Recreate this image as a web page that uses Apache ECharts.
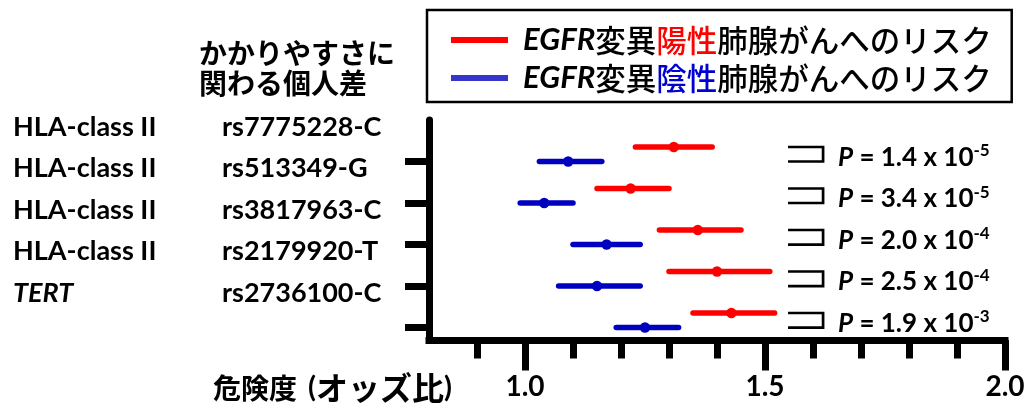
<!DOCTYPE html>
<html>
<head>
<meta charset="utf-8">
<script src="https://cdn.jsdelivr.net/npm/echarts@6.0.0/dist/echarts.min.js"></script>
<style>
  html, body { margin: 0; padding: 0; background: #ffffff; }
  #chart { width: 1035px; height: 408px; }
</style>
</head>
<body>
<div id="chart"></div>
<script>
// ---- data ----
const genes = ['HLA-class II', 'HLA-class II', 'HLA-class II', 'HLA-class II', 'TERT'];
const snps = ['rs7775228-C', 'rs513349-G', 'rs3817963-C', 'rs2179920-T', 'rs2736100-C'];
const rows = [1, 2, 3, 4, 5];
const posOR = [1.31, 1.22, 1.36, 1.40, 1.43];
const posLow = [1.23, 1.15, 1.28, 1.30, 1.35];
const posHigh = [1.39, 1.30, 1.45, 1.51, 1.52];
const negOR = [1.09, 1.04, 1.17, 1.15, 1.25];
const negLow = [1.03, 0.99, 1.10, 1.07, 1.19];
const negHigh = [1.16, 1.10, 1.24, 1.24, 1.32];
const pCoef = ['1.4', '3.4', '2.0', '2.5', '1.9'];
const pExp = ['-5', '-5', '-4', '-4', '-3'];
const majorTicks = [1.0, 1.5, 2.0];
const minorTicks = [0.9, 1.1, 1.2, 1.3, 1.4, 1.6, 1.7, 1.8, 1.9];
const posName = 'EGFR変異陽性肺腺がんへのリスク';
const negName = 'EGFR変異陰性肺腺がんへのリスク';

// ---- style constants ----
const RED = '#ff0000';
const BLUE = '#0000c0';
const RED_SHIFT = -0.35;     // red row sits above blue row
const LABEL_SHIFT = -0.83;   // row labels sit above the ticks
const LATIN = "Lato, 'Noto Sans CJK JP', sans-serif";
const CJK = "'Noto Sans CJK JP', Lato, sans-serif";

function errSeries(name, color, lo, hi, or, shift) {
  return {
    name: name,
    type: 'custom',
    itemStyle: { color: color },
    encode: { x: [0, 1, 2], y: 3 },
    data: rows.map((r, i) => [lo[i], hi[i], or[i], r + shift]),
    renderItem: function (params, api) {
      const a = api.coord([api.value(0), api.value(3)]);
      const b = api.coord([api.value(1), api.value(3)]);
      const m = api.coord([api.value(2), api.value(3)]);
      return {
        type: 'group',
        children: [
          { type: 'line', shape: { x1: a[0], y1: a[1], x2: b[0], y2: b[1] },
            style: { stroke: color, lineWidth: 5.5, lineCap: 'round' } },
          { type: 'circle', shape: { cx: m[0], cy: m[1], r: 5.2 },
            style: { fill: color } }
        ]
      };
    }
  };
}

const chart = echarts.init(document.getElementById('chart'), null, { renderer: 'canvas' });
chart.setOption({
  animation: false,
  backgroundColor: '#ffffff',
  title: {
    text: 'かかりやすさに\n関わる個人差',
    left: 199, top: 38, padding: 0,
    textStyle: { fontFamily: CJK, fontSize: 28, fontWeight: 'bold', lineHeight: 30, color: '#000' }
  },
  legend: {
    orient: 'vertical',
    left: 427, top: 10,
    padding: [11, 20, 5, 24],
    itemGap: 0,
    itemWidth: 57, itemHeight: 6,
    borderColor: '#000', borderWidth: 2.5,
    selectedMode: false,
    data: [
      { name: posName, icon: 'rect', itemStyle: { color: RED } },
      { name: negName, icon: 'rect', itemStyle: { color: '#3535cc' } }
    ],
    formatter: function (n) {
      return n === posName
        ? '{e|EGFR}{n|変異}{r|陽性}{n|肺腺がんへのリスク}'
        : '{e|EGFR}{n|変異}{b|陰性}{n|肺腺がんへのリスク}';
    },
    textStyle: {
      padding: [0, 0, 0, 10],
      lineHeight: 38,
      rich: {
        e: { fontFamily: LATIN, fontSize: 31, fontWeight: 'bold', fontStyle: 'italic', color: '#000', lineHeight: 38 },
        n: { fontFamily: CJK, fontSize: 30.5, fontWeight: 500, color: '#000', lineHeight: 38 },
        r: { fontFamily: CJK, fontSize: 30.5, fontWeight: 500, color: RED, lineHeight: 38 },
        b: { fontFamily: CJK, fontSize: 30.5, fontWeight: 500, color: '#0000d0', lineHeight: 38 }
      }
    }
  },
  grid: { left: 429, right: 30, top: 120, bottom: 68, containLabel: false, outerBoundsMode: 'none' },
  xAxis: [
    {
      type: 'value', min: 0.8, max: 2.0, position: 'bottom',
      splitLine: { show: false },
      axisLine: { show: true, onZero: false, lineStyle: { color: '#000', width: 7, cap: 'square' } },
      axisTick: { show: true, customValues: majorTicks, length: 30.5, lineStyle: { color: '#000', width: 7 } },
      axisLabel: {
        show: true, customValues: majorTicks, margin: 33,
        formatter: v => v.toFixed(1),
        fontFamily: LATIN, fontSize: 28, fontWeight: 'bold', color: '#000'
      },
      name: '{a|危険度}{o|(}{k|オッズ比}{p|)}',
      nameLocation: 'start',
      nameGap: 216,
      nameTextStyle: {
        align: 'left', verticalAlign: 'top', padding: [34, 0, 0, 0],
        fontFamily: CJK, fontSize: 28, fontWeight: 'bold', color: '#000', lineHeight: 28,
        rich: {
          a: { fontFamily: CJK, fontSize: 28, fontWeight: 'bold', color: '#000', lineHeight: 28 },
          o: { fontFamily: LATIN, fontSize: 29, fontWeight: 'bold', color: '#000', lineHeight: 28, padding: [0, 0, 0, 11] },
          p: { fontFamily: LATIN, fontSize: 29, fontWeight: 'bold', color: '#000', lineHeight: 28 },
          k: { fontFamily: CJK, fontSize: 32, fontWeight: 'bold', color: '#000', lineHeight: 28 }
        }
      }
    },
    {
      type: 'value', min: 0.8, max: 2.0, position: 'bottom', offset: 0,
      splitLine: { show: false },
      axisLine: { show: false, onZero: false },
      axisTick: { show: true, customValues: minorTicks, length: 18.5, lineStyle: { color: '#000', width: 7 } },
      axisLabel: { show: false }
    }
  ],
  yAxis: {
    type: 'value', min: 0, max: 5.3, inverse: true,
    splitLine: { show: false },
    axisLine: { show: true, onZero: false, lineStyle: { color: '#000', width: 7 } },
    axisTick: { show: true, customValues: rows, length: 24, lineStyle: { color: '#000', width: 7 } },
    axisLabel: {
      show: true,
      customValues: rows.map(r => r + LABEL_SHIFT),
      align: 'left', margin: 416,
      formatter: function (v) {
        const i = Math.round(v - LABEL_SHIFT) - 1;
        const g = genes[i] === 'TERT' ? '{t|' + genes[i] + '}' : '{g|' + genes[i] + '}';
        return g + '{s|' + snps[i] + '}';
      },
      rich: {
        g: { fontFamily: LATIN, fontSize: 27, fontWeight: 'bold', color: '#000', width: 209 },
        t: { fontFamily: LATIN, fontSize: 27, fontWeight: 'bold', fontStyle: 'italic', color: '#000', width: 209 },
        s: { fontFamily: LATIN, fontSize: 27, fontWeight: 'bold', color: '#000' }
      }
    }
  },
  series: [
    errSeries(posName, RED, posLow, posHigh, posOR, RED_SHIFT),
    errSeries(negName, BLUE, negLow, negHigh, negOR, 0),
    {
      type: 'custom',
      silent: true,
      encode: { y: 0 },
      data: rows.map((r, i) => [r, pCoef[i], pExp[i]]),
      renderItem: function (params, api) {
        const r = api.value(0);
        const i = params.dataIndex;
        const tl = api.coord([1.548, r + RED_SHIFT]);
        const tr = api.coord([1.621, r + RED_SHIFT]);
        const br = api.coord([1.621, r]);
        const bl = api.coord([1.548, r]);
        const tx = api.coord([1.652, r + RED_SHIFT / 2]);
        return {
          type: 'group',
          children: [
            { type: 'polyline', shape: { points: [tl, tr, br, bl] },
              style: { stroke: '#000', lineWidth: 2.7, fill: null, lineJoin: 'miter' } },
            { type: 'text', x: tx[0], y: tx[1] + 3,
              style: {
                text: '{p|P}{n| = ' + pCoef[i] + ' x 10}{u|' + pExp[i] + '}',
                align: 'left', verticalAlign: 'middle',
                rich: {
                  p: { fontFamily: LATIN, fontSize: 26, fontWeight: 'bold', fontStyle: 'italic', fill: '#000', lineHeight: 30 },
                  n: { fontFamily: LATIN, fontSize: 26, fontWeight: 'bold', fill: '#000', lineHeight: 30 },
                  u: { fontFamily: LATIN, fontSize: 17, fontWeight: 'bold', fill: '#000', lineHeight: 17, verticalAlign: 'top' }
                }
              } }
          ]
        };
      }
    }
  ]
});
</script>
</body>
</html>
